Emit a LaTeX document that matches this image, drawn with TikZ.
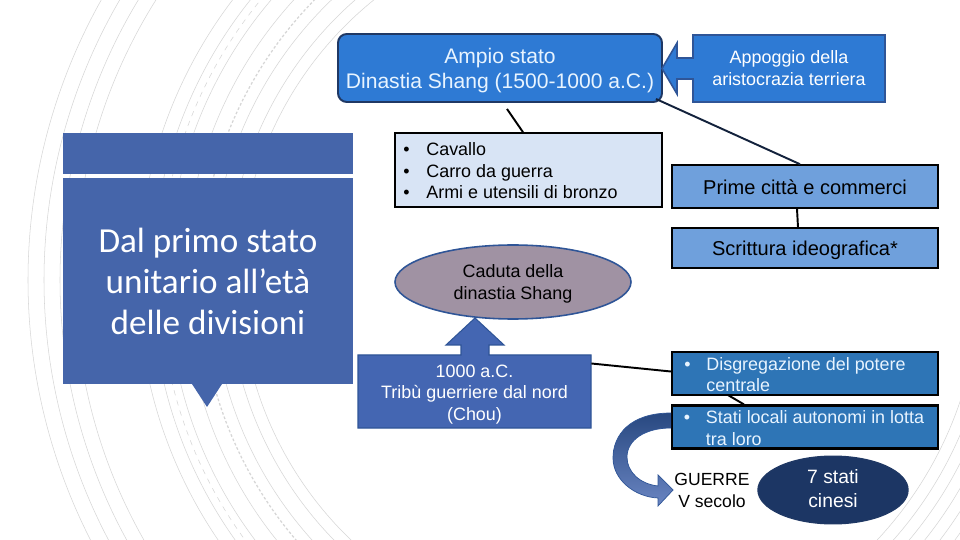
\documentclass[tikz,border=0pt]{standalone}
\usepackage{fontspec}
\setmainfont{Liberation Sans}
\newfontfamily\titlefont{Carlito}
\usetikzlibrary{arrows.meta,shapes.geometric,calc}
\newlength\pxu
\setlength\pxu{0.02cm}
\newcommand\dnshift[2]{\raisebox{-#1\pxu}[\height][\depth]{#2}}
\definecolor{ampioFill}{RGB}{46,122,212}
\definecolor{navyLine}{RGB}{31,56,100}
\definecolor{midLine}{RGB}{47,85,151}
\definecolor{paleFill}{RGB}{216,228,245}
\definecolor{primeFill}{RGB}{111,160,220}
\definecolor{mauveFill}{RGB}{160,146,163}
\definecolor{chouFill}{RGB}{68,102,178}
\definecolor{titleBlue}{RGB}{69,101,170}
\definecolor{disgFill}{RGB}{46,117,182}
\definecolor{navyFill}{RGB}{28,54,100}
\definecolor{paleText}{RGB}{232,244,255}
\definecolor{arcGray}{RGB}{214,214,214}
\begin{document}
\begin{tikzpicture}[x=0.02cm,y=-0.02cm,
  boxbase/.style={rectangle,inner sep=0pt,align=center},
  ampiobox/.style={boxbase,fill=ampioFill,draw=navyLine,line width=1.1pt,rounded corners=5pt,
    minimum width=324\pxu,minimum height=68\pxu,text=paleText,font=\fontsize{12}{13.6}\selectfont},
  palebox/.style={boxbase,fill=paleFill,draw=black,line width=0.9pt,
    minimum width=267\pxu,minimum height=74\pxu,font=\fontsize{10.2}{12.2}\selectfont},
  primebox/.style={boxbase,fill=primeFill,draw=black,line width=0.9pt,
    minimum width=266\pxu,font=\fontsize{11.4}{13}\selectfont},
  disgbox/.style={boxbase,fill=disgFill,draw=black,line width=1.3pt,
    minimum width=266\pxu,text=paleText,font=\fontsize{10.2}{12.2}\selectfont},
  plaintext/.style={boxbase,draw=none,fill=none},
  link/.style={draw=black,line width=1.1pt},
  bgarc/.style={draw=arcGray,line width=0.3pt}
]
\useasboundingbox (0,0) rectangle (960,540);
\fill[white] (0,0) rectangle (960,540);
% background decorative arcs
\begin{scope}
\clip (0,0) rectangle (960,540);
\foreach \r in {360,372,388,415,432,448,462,525,540,556,572}
  \draw[bgarc] (600,280) ++(125:\r) arc[start angle=125,end angle=235,radius=\r];
\draw[bgarc,dash pattern=on 1.5pt off 1.2pt,line width=0.7pt] (600,280) ++(125:400) arc[start angle=125,end angle=235,radius=400];
\draw[bgarc,dashed] (600,280) ++(125:440) arc[start angle=125,end angle=235,radius=440];
\foreach \r in {380,392,404,416,428,440}
  \draw[bgarc] (600,280) ++(15:\r) arc[start angle=15,end angle=55,radius=\r];
\end{scope}

% title panel
\fill[titleBlue] (63,133) rectangle (353,174);
\fill[titleBlue] (192,384) -- (222,384) -- (207,407) -- cycle;
\node[boxbase,fill=titleBlue,minimum width=290\pxu,minimum height=206\pxu,text=white,
  font=\titlefont\fontsize{20}{23.3}\selectfont] (title) at (208,281)
  {Dal primo stato\\unitario all’età\\delle divisioni};

% top boxes
\node[ampiobox] (ampio) at (500,68) {\dnshift{3}{\begin{tabular}{@{}c@{}}Ampio stato\\[0.5pt]Dinastia Shang (1500-1000 a.C.)\end{tabular}}};
\fill[ampioFill,draw=midLine,line width=0.9pt]
  (885,35) -- (693,35) -- (693,58) -- (677,58) -- (677,43) -- (662,68.5)
  -- (677,94) -- (677,79) -- (693,79) -- (693,102) -- (885,102) -- cycle;
\node[plaintext,minimum width=192\pxu,minimum height=67\pxu,text=white,
  font=\fontsize{10.2}{12.5}\selectfont] (app) at (789,68.5)
  {\dnshift{1.5}{\begin{tabular}{@{}c@{}}Appoggio della\\aristocrazia terriera\end{tabular}}};

\node[palebox] (cav) at (528.5,170) {\dnshift{3}{%
  \begin{tabular}{@{}p{23\pxu}@{}l@{}}
  \textbullet & Cavallo\\
  \textbullet & Carro da guerra\\
  \textbullet & Armi e utensili di bronzo
  \end{tabular}}\hspace*{36\pxu}};

\node[primebox,minimum height=43\pxu] (prime) at (805,186.5) {\dnshift{1}{Prime città e commerci}};
\node[primebox,minimum height=40\pxu] (scrit) at (805,248) {\dnshift{2}{Scrittura ideografica*}};

\node[ellipse,fill=mauveFill,draw=midLine,line width=0.9pt,inner sep=0pt,
  minimum width=236\pxu,minimum height=74\pxu,align=center,
  font=\fontsize{10.2}{12.5}\selectfont] (cad) at (513,282)
  {\dnshift{2}{\begin{tabular}{@{}c@{}}Caduta della\\dinastia Shang\end{tabular}}};

% 1000 a.C. box with up arrow
\fill[chouFill,draw=midLine,line width=0.6pt]
  (358,355) -- (461,355) -- (461,345) -- (446,345) -- (475,318) -- (504,345)
  -- (489,345) -- (489,355) -- (591,355) -- (591,428) -- (358,428) -- cycle;
\node[plaintext,minimum width=233\pxu,minimum height=73\pxu,text=white,
  font=\fontsize{10.2}{12.2}\selectfont] (chou) at (474.5,391.5)
  {\dnshift{3}{\begin{tabular}{@{}c@{}}1000 a.C.\\Tribù guerriere dal nord\\(Chou)\end{tabular}}};

\node[disgbox,minimum height=41\pxu] (disg) at (805,373.5) {\dnshift{3}{%
  \begin{tabular}{@{}p{30\pxu}@{}l@{}}
  \hspace*{8\pxu}\textbullet & Disgregazione del potere\\
  & centrale
  \end{tabular}}\hspace*{28\pxu}};
\node[disgbox,minimum height=42\pxu] (stati) at (805,427) {\dnshift{3}{%
  \begin{tabular}{@{}p{30\pxu}@{}l@{}}
  \hspace*{8\pxu}\textbullet & Stati locali autonomi in lotta\\
  & tra loro
  \end{tabular}}\hspace*{10\pxu}};

\node[plaintext,font=\fontsize{10}{12.4}\selectfont] (guerre) at (712,492)
  {\begin{tabular}{@{}c@{}}GUERRE\\V secolo\end{tabular}};
\node[ellipse,fill=navyFill,draw=navyLine,line width=0.8pt,inner sep=0pt,
  minimum width=150\pxu,minimum height=54\pxu,align=center,text=white,
  font=\fontsize{11}{13.6}\selectfont] (sette) at (833,490)
  {\dnshift{1}{\begin{tabular}{@{}c@{}}7 stati\\cinesi\end{tabular}}};

% curved arrow from stati to guerre
\shade[top color=midLine!85!black,bottom color=chouFill!80!white,draw=midLine,line width=0.4pt]
  ($(stati.west)+(0,-14)$) .. controls (630,413) and (613,435) .. (613,458)
  .. controls (613,480) and (635,497) .. (658,498)
  -- (658,506) -- ($(guerre.west)+(-1,-2)$) -- (658,475) -- (658,486)
  .. controls (640,484) and (627,472) .. (627,457)
  .. controls (627,440) and (645,428) .. ($(stati.west)+(0,1)$) -- cycle;

% connectors
\draw[link] ($(ampio.south)+(7,6)$) -- ($(cav.north)+(-5.5,0)$);
\draw[link,draw=navyLine!60!black] ($(ampio.south east)+(-7,-4)$) -- ($(prime.north)+(-5,0)$);
\draw[link] ($(prime.south)+(-8,0)$) -- ($(scrit.north)+(-7,0)$);
\draw[link] ($(chou.east)+(0,-28)$) -- ($(disg.west)+(0,-2)$);
\draw[link] ($(disg.south)+(-77,-1)$) -- ($(stati.north)+(-61,0)$);
\end{tikzpicture}
\end{document}
